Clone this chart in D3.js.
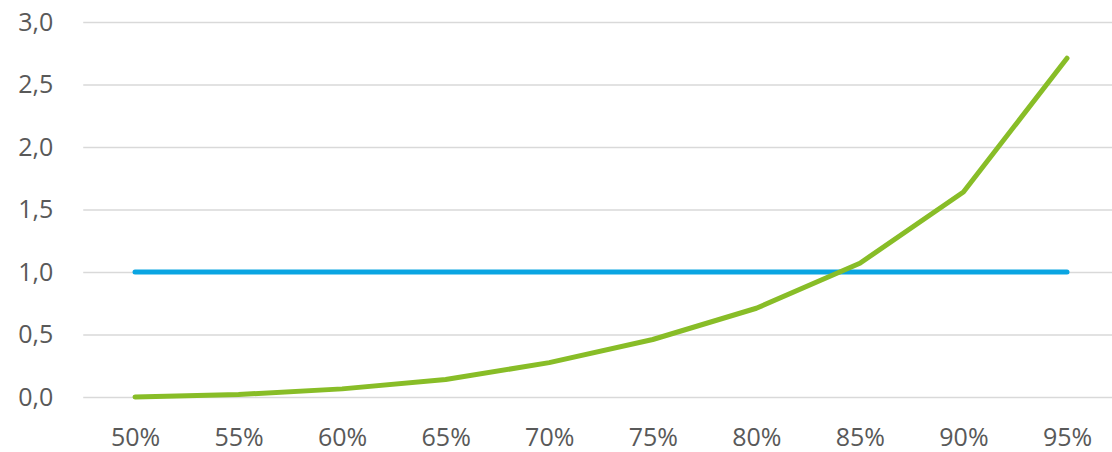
<!DOCTYPE html>
<html>
<head>
<meta charset="utf-8">
<script src="https://cdn.jsdelivr.net/npm/d3@7"></script>
<style>
  html, body { margin: 0; padding: 0; background: #fff; }
  svg { display: block; }
</style>
</head>
<body>
<svg id="chart" width="1112" height="452"></svg>
<script>
// Categories along the x axis
const categories = ["50%", "55%", "60%", "65%", "70%", "75%", "80%", "85%", "90%", "95%"];
// Rising series (green)
const greenValues = [0.0, 0.02, 0.065, 0.14, 0.275, 0.46, 0.71, 1.07, 1.64, 2.71];
// Reference level (blue)
const blueValues = [1.0, 1.0, 1.0, 1.0, 1.0, 1.0, 1.0, 1.0, 1.0, 1.0];
// Y axis ticks
const yTicks = [0, 0.5, 1.0, 1.5, 2.0, 2.5, 3.0];

const svg = d3.select("#chart");
const fontFamily = "'Open Sans', 'Noto Sans', sans-serif";
const textColor = "#595959";
const fontSize = "25px";

const x = d3.scalePoint().domain(categories).range([135, 1067]);
const step = x.step();
const y = d3.scaleLinear().domain([0, 3]).range([397, 22]);

const gridLeft = x(categories[0]) - step / 2;
const gridRight = x(categories[categories.length - 1]) + step / 2;

// Horizontal gridlines with value labels
const yAxis = d3.axisLeft(y)
  .tickValues(yTicks)
  .tickSize(-(gridRight - gridLeft))
  .tickPadding(30)
  .tickFormat(d => d3.format(".1f")(d).replace(".", ","));

const gy = svg.append("g")
  .attr("transform", `translate(${gridLeft},0)`)
  .call(yAxis);
gy.select(".domain").remove();
gy.selectAll(".tick line").attr("stroke", "#d9d9d9").attr("stroke-width", 1.5);
gy.selectAll(".tick text")
  .attr("fill", textColor)
  .style("font-family", fontFamily)
  .style("font-size", fontSize);

// Category axis labels
const xAxis = d3.axisBottom(x).tickSize(0).tickPadding(31);
const gx = svg.append("g")
  .attr("transform", `translate(0,${y(0)})`)
  .call(xAxis);
gx.select(".domain").remove();
gx.selectAll(".tick text")
  .attr("fill", textColor)
  .style("font-family", fontFamily)
  .style("font-size", fontSize);

const line = d3.line()
  .x((d, i) => x(categories[i]))
  .y(d => y(d));

svg.append("path")
  .datum(blueValues)
  .attr("d", line)
  .attr("fill", "none")
  .attr("stroke", "#0aa5e2")
  .attr("stroke-width", 5)
  .attr("stroke-linecap", "round")
  .attr("stroke-linejoin", "round");

svg.append("path")
  .datum(greenValues)
  .attr("d", line)
  .attr("fill", "none")
  .attr("stroke", "#88bd27")
  .attr("stroke-width", 5)
  .attr("stroke-linecap", "round")
  .attr("stroke-linejoin", "round");
</script>
</body>
</html>
